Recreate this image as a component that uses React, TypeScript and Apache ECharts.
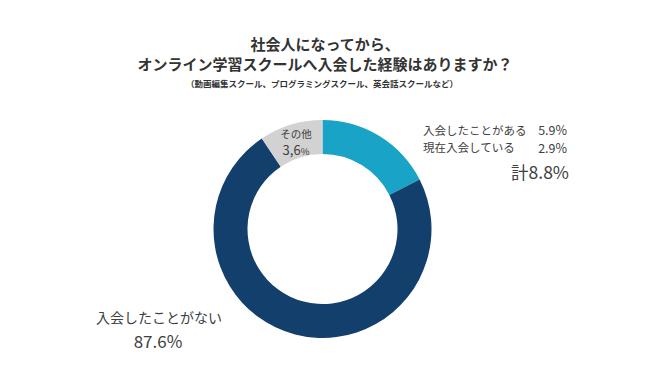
import React, { useEffect, useRef } from "react";
import * as echarts from "echarts";

// Data
const titleLines = ["社会人になってから、", "オンライン学習スクールへ入会した経験はありますか？"];
const subtitle = "（動画編集スクール、プログラミングスクール、英会話スクールなど）";
const sliceNames = ["入会したことがある・現在入会している", "入会したことがない", "その他"];
// slice shares as drawn in the picture (arc angles measured)
const sliceShares = [17.5, 73.1, 9.4];
const sliceColors = ["#19a3c6", "#133f6d", "#d2d2d2"];
const joinedLabels = ["入会したことがある", "現在入会している"];
const joinedValues = ["5.9", "2.9"];
const totalLabel = "計";
const totalValue = "8.8";
const neverLabel = "入会したことがない";
const neverValue = "87.6";
const otherLabel = "その他";
const otherValue = "3,6";

const FONT = '"Noto Sans CJK JP", "Noto Sans", sans-serif';
const TXT = "#404040";

export default function App() {
  const ref = useRef<HTMLDivElement>(null);
  useEffect(() => {
    if (!ref.current) return;
    const chart = echarts.init(ref.current, null, { renderer: "svg" });
    const text = (x: number, y: number, t: string, size: number, opts: any = {}) => ({
      type: "text",
      x,
      y,
      z: 100,
      style: {
        text: t,
        fontFamily: FONT,
        fontSize: size,
        lineHeight: Math.round(size),
        fontWeight: opts.weight || "normal",
        fill: opts.fill || TXT,
        textAlign: opts.align || "left",
        textVerticalAlign: "middle",
      },
    });
    const graphics: any[] = [
      text(325, 43, titleLines[0], 15, { weight: "bold", align: "center", fill: "#333" }),
      text(325, 63, titleLines[1], 15, { weight: "bold", align: "center", fill: "#333" }),
      text(322, 83, subtitle, 8.5, { weight: "bold", align: "center", fill: "#333" }),
      text(423, 129.5, joinedLabels[0], 11.5),
      text(567, 129, joinedValues[0] + "%", 12.5, { align: "right" }),
      text(423, 146.5, joinedLabels[1], 11.5),
      text(567, 147, joinedValues[1] + "%", 12.5, { align: "right" }),
      text(569, 171, totalLabel + totalValue + "%", 17.5, { align: "right" }),
      text(296, 133, otherLabel, 10.5, { align: "center" }),
      {
        type: "text",
        x: 296,
        y: 149,
        z: 100,
        style: {
          text: "{n|" + otherValue + "}{p|%}",
          textAlign: "center",
          textVerticalAlign: "middle",
          rich: {
            n: { fontFamily: FONT, fontSize: 13, lineHeight: 13, fill: TXT },
            p: { fontFamily: FONT, fontSize: 9.5, lineHeight: 13, fill: TXT, padding: [3, 0, 0, 0] },
          },
        },
      },
      text(159, 317, neverLabel, 14, { align: "center" }),
      text(158, 340, neverValue + "%", 17, { align: "center" }),
    ];
    chart.setOption({
      animation: false,
      series: [
        {
          type: "pie",
          z: 1,
          center: [322.5, 229],
          radius: [75, 109],
          startAngle: 90,
          clockwise: true,
          label: { show: false },
          labelLine: { show: false },
          emphasis: { disabled: true },
          itemStyle: { borderWidth: 0 },
          data: sliceNames.map((n, i) => ({
            name: n,
            value: sliceShares[i],
            itemStyle: { color: sliceColors[i] },
          })),
        },
      ],
      graphic: graphics,
    });
    return () => chart.dispose();
  }, []);
  return <div ref={ref} style={{ width: 650, height: 391, position: "absolute", left: 0, top: 0, background: "#fff" }} />;
}
